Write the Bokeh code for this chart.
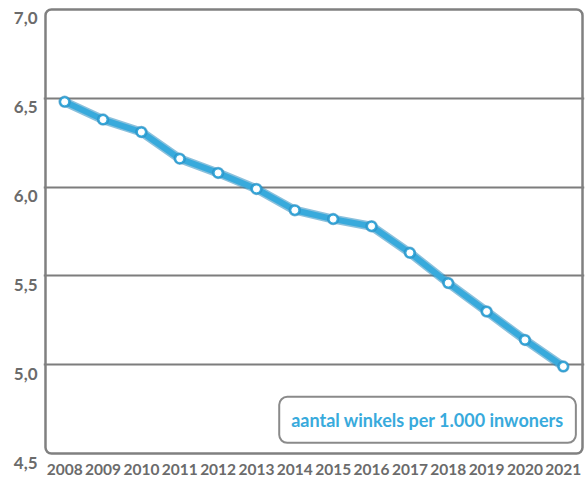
from bokeh.plotting import figure
from bokeh.models import FixedTicker, Label, Range1d, LinearAxis
from bokeh.embed import file_html
from bokeh.resources import INLINE

years = [2008, 2009, 2010, 2011, 2012, 2013, 2014, 2015, 2016, 2017, 2018, 2019, 2020, 2021]
winkels = [6.48, 6.38, 6.31, 6.16, 6.08, 5.99, 5.87, 5.82, 5.78, 5.63, 5.46, 5.30, 5.14, 4.99]
y_ticks = [4.5, 5.0, 5.5, 6.0, 6.5, 7.0]
y_tick_labels = ["4,5", "5,0", "5,5", "6,0", "6,5", "7,0"]
legend_text = "aantal winkels per 1.000 inwoners"

BLUE = "#38aadc"
DARK_BLUE = "#2a8cc0"
GRAY = "#7d7d7d"
LABEL_GRAY = "#6b6b6b"
FONT = "Lato"

X0, X1 = 2007.5, 2021.5  # visible chart box
Y0, Y1 = 4.5, 7.0
PADX = 0.052             # small margin so the box border is not clipped
PADY = 0.011
SHIFT = 0.05             # the original prints its y labels a little below each gridline

p = figure(width=586, height=482, output_backend="svg", toolbar_location=None,
           x_range=Range1d(X0 - PADX, X1 + PADX), y_range=Range1d(Y0 - SHIFT, Y1 + PADY),
           min_border_left=43, min_border_right=2, min_border_top=7, min_border_bottom=20)
p.background_fill_color = "white"
p.border_fill_color = "white"
p.outline_line_color = None

# x axis
p.xaxis.ticker = FixedTicker(ticks=years)
ax = p.xaxis[0]
ax.axis_line_color = None
ax.major_tick_line_color = None
ax.minor_tick_line_color = None
ax.major_tick_out = 0
ax.major_tick_in = 0
ax.major_label_text_font = FONT
ax.major_label_text_font_style = "bold"
ax.major_label_text_color = LABEL_GRAY
ax.major_label_text_font_size = "15.5px"
ax.major_label_standoff = 1

# y axis on an offset range so each label sits just under its gridline
p.yaxis[0].visible = False
p.extra_y_ranges = {"lab": Range1d(Y0, Y1 + PADY + SHIFT)}
yax = LinearAxis(y_range_name="lab", ticker=FixedTicker(ticks=y_ticks),
                 major_label_overrides={t: l for t, l in zip(y_ticks, y_tick_labels)})
yax.axis_line_color = None
yax.major_tick_line_color = None
yax.minor_tick_line_color = None
yax.major_tick_out = 0
yax.major_tick_in = 0
yax.major_label_text_font = FONT
yax.major_label_text_font_style = "bold"
yax.major_label_text_color = LABEL_GRAY
yax.major_label_text_font_size = "17px"
yax.major_label_standoff = 6
p.add_layout(yax, "left")

# grid
p.xgrid.grid_line_color = None
p.ygrid.ticker = FixedTicker(ticks=y_ticks[1:-1])
p.ygrid.grid_line_color = GRAY
p.ygrid.grid_line_width = 2

# chart box
p.quad(left=[X0], right=[X1], bottom=[Y0], top=[Y1], fill_color=None,
       line_color="#808080", line_width=2.5, border_radius=6)

# line with darker edge
p.line(years, winkels, line_color=DARK_BLUE, line_width=9, line_alpha=0.55, line_join="round")
p.line(years, winkels, line_color=BLUE, line_width=6, line_join="round")
p.scatter(years, winkels, size=11, fill_color=BLUE, line_color=DARK_BLUE, line_width=1.5, line_alpha=0.6)
p.scatter(years, winkels, size=6, fill_color="white", line_color="white")

# legend box (shadow + box)
shadow = Label(x=2017.46, y=4.69, text=legend_text, text_align="center", text_baseline="middle",
               text_font=FONT, text_font_style="bold", text_font_size="18px", text_alpha=0,
               x_offset=3, y_offset=-3,
               background_fill_color="#9a9a9a", background_fill_alpha=0.7,
               border_line_color=None, border_radius=8, padding=12)
p.add_layout(shadow)
leg = Label(x=2017.46, y=4.69, text=legend_text, text_align="center", text_baseline="middle",
            text_font=FONT, text_font_style="bold", text_font_size="18px", text_color=BLUE,
            background_fill_color="white", border_line_color="#8a8a8a", border_line_width=2,
            border_radius=8, padding=12)
p.add_layout(leg)

open("out.html", "w").write(file_html(p, INLINE))
